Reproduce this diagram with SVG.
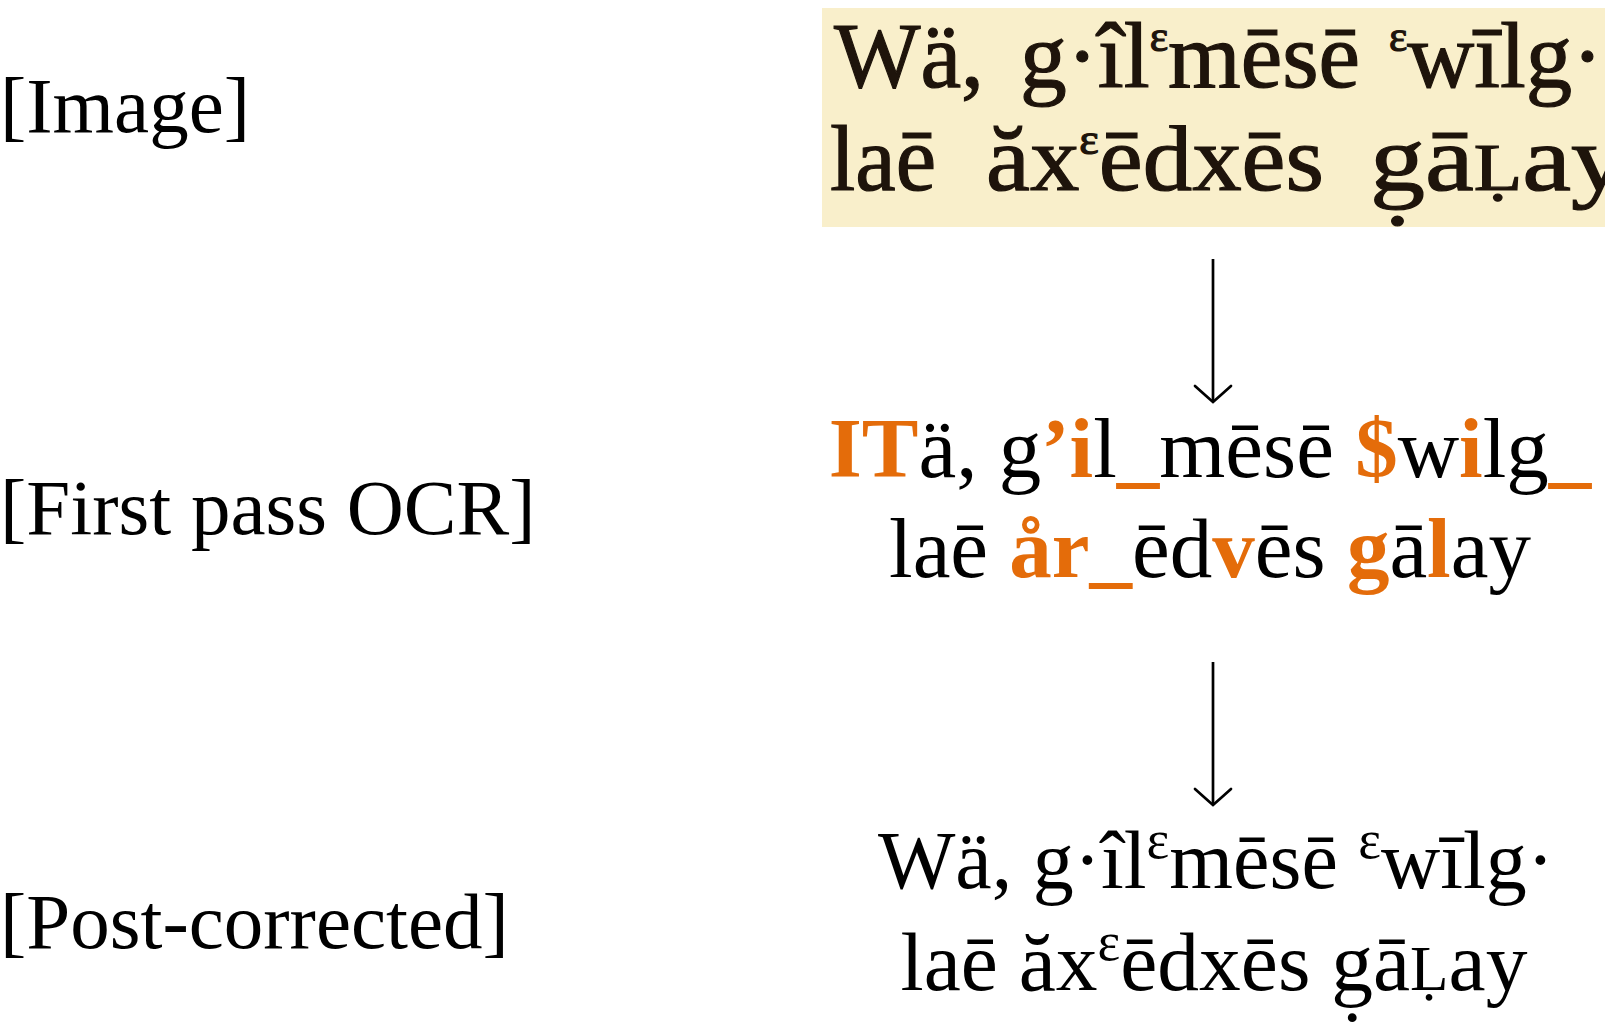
<svg xmlns="http://www.w3.org/2000/svg" width="1611" height="1030" viewBox="0 0 1611 1030">
  <style>
    .lbl { font-family: "Liberation Serif", "Times New Roman", serif; font-size: 79px; fill: #000; }
    .txt { font-family: "Liberation Serif", "Times New Roman", serif; font-size: 85px; fill: #000; }
    .post { font-size: 82px; }
    .post2 { font-size: 83.5px; }
    .err { font-weight: bold; fill: #E46C0A; }
    .sup { font-size: 54px; }
    .scan { font-family: "Liberation Serif", "Times New Roman", serif; font-size: 94px; fill: #1e140b; stroke: #1e140b; stroke-width: 1.2; }
    .ssup { font-size: 44px; }
    .conn { stroke: #000; stroke-width: 2.7; fill: none; }
  </style>
  <defs>
    <marker id="arrow" markerUnits="userSpaceOnUse" markerWidth="40" markerHeight="40" viewBox="-20 -20 40 40" refX="0" refY="0" orient="auto" overflow="visible">
      <path d="M-16,-18 Q-7,-8 0,0 Q-7,8 -16,18" stroke="#000" stroke-width="2.7" fill="none" stroke-linecap="round"/>
    </marker>
    <clipPath id="scanclip">
      <rect x="822" y="8" width="783" height="219"/>
    </clipPath>
  </defs>
  <rect width="1611" height="1030" fill="#fff"/>

  <g id="label-image">
    <text class="lbl" x="0" y="132">[Image]</text>
  </g>
  <g id="label-ocr">
    <text class="lbl" x="0" y="534">[First pass OCR]</text>
  </g>
  <g id="label-post">
    <text class="lbl" x="0" y="948">[Post-corrected]</text>
  </g>

  <g id="node-image">
    <rect x="822" y="8" width="783" height="219" fill="#F9EFCB"/>
    <g clip-path="url(#scanclip)">
      <text class="scan" x="834" y="87" textLength="150" lengthAdjust="spacingAndGlyphs">Wä,</text>
      <text class="scan" x="1020" y="87" textLength="340" lengthAdjust="spacingAndGlyphs">g·îl<tspan class="ssup" dy="-36">ε</tspan><tspan dy="36">mēsē</tspan></text>
      <text class="scan" x="1389" y="87" textLength="214" lengthAdjust="spacingAndGlyphs"><tspan class="ssup" dy="-36">ε</tspan><tspan dy="36">wīlg·</tspan></text>
      <text class="scan" x="830" y="190" textLength="106" lengthAdjust="spacingAndGlyphs">laē</text>
      <text class="scan" x="986" y="190" textLength="338" lengthAdjust="spacingAndGlyphs">ăx<tspan class="ssup" dy="-36">ε</tspan><tspan dy="36">ēdxēs</tspan></text>
      <text class="scan" x="1370" y="190" textLength="256" lengthAdjust="spacingAndGlyphs">g&#x323;ā<tspan font-size="68">Ḷ</tspan>ay</text>
    </g>
  </g>

  <g id="node-ocr">
    <text class="txt" x="1210" y="477" text-anchor="middle"><tspan class="err">IT</tspan>ä, g<tspan class="err">’i</tspan>l<tspan class="err">_</tspan>mēsē <tspan class="err">$</tspan>w<tspan class="err">i</tspan>lg<tspan class="err">_</tspan></text>
    <text class="txt" x="1210" y="577" text-anchor="middle">laē <tspan class="err">år_</tspan>ēd<tspan class="err">v</tspan>ēs <tspan class="err">g</tspan>ā<tspan class="err">l</tspan>ay</text>
  </g>

  <g id="node-post">
    <text class="txt post" x="1216" y="888" text-anchor="middle">Wä, g·îl<tspan class="sup" dy="-30">ε</tspan><tspan dy="30">mēsē </tspan><tspan class="sup" dy="-30">ε</tspan><tspan dy="30">wīlg·</tspan></text>
    <text class="txt post2" x="1214" y="990" text-anchor="middle">laē ăx<tspan class="sup" dy="-30">ε</tspan><tspan dy="30">ēdxēs g&#x323;ā</tspan><tspan font-size="63">Ḷ</tspan>ay</text>
  </g>

  <g id="connectors">
    <line class="conn" x1="1213" y1="259" x2="1213" y2="402" marker-end="url(#arrow)"/>
    <line class="conn" x1="1213" y1="662" x2="1213" y2="805" marker-end="url(#arrow)"/>
  </g>
</svg>
